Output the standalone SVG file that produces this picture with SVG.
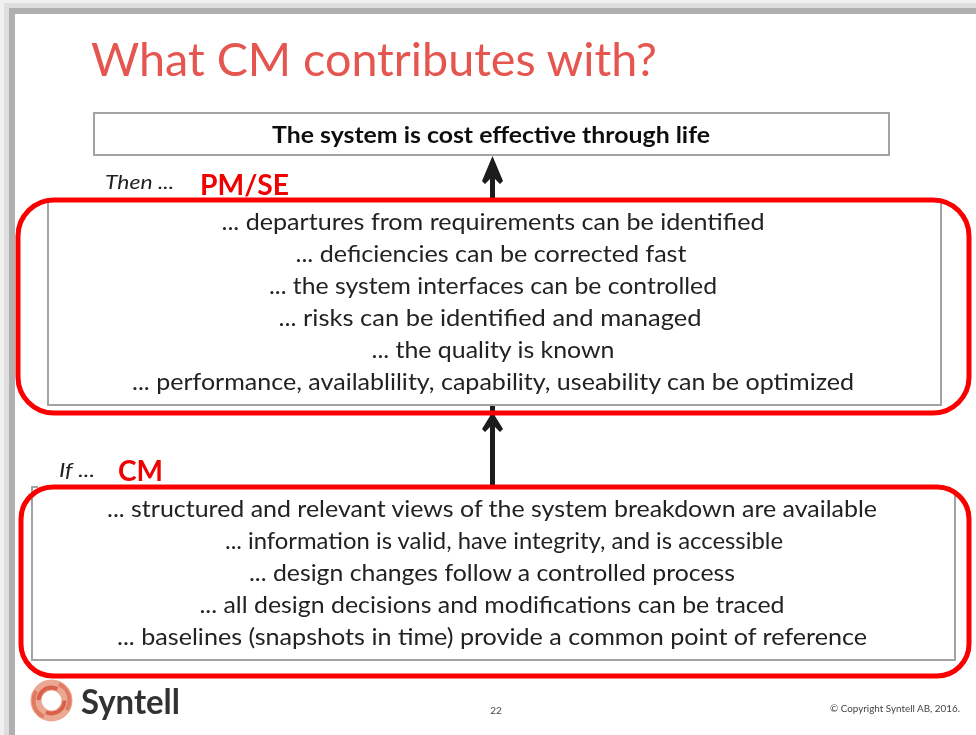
<svg xmlns="http://www.w3.org/2000/svg" width="976" height="735" viewBox="0 0 976 735">
<defs>
<filter id="soft" x="0" y="0" width="100%" height="100%"><feGaussianBlur stdDeviation="0.55"/></filter>
<style>
text{font-family:"Lato","Open Sans","Liberation Sans",sans-serif;}
.body{font-size:23px;fill:#222;text-anchor:middle;}
.red{font-size:28px;font-weight:700;fill:#f00000;}
.it{font-size:19px;font-style:italic;fill:#222;}
.box{fill:#fff;stroke:#a3a3a3;stroke-width:2;}
.edge{fill:none;stroke:#a3a3a3;stroke-width:2;}
.hl{fill:none;stroke:#fa0000;stroke-width:5;}
.conn{stroke:#1a1a1a;stroke-width:5;fill:none;}
.head{fill:#1a1a1a;stroke:none;}
</style>
</defs>
<rect width="976" height="735" fill="#fff"/>
<g filter="url(#soft)">
<rect x="0" y="0" width="976" height="3" fill="#f0f0f0"/>
<rect x="0" y="3" width="976" height="5" fill="#dedede"/>
<rect x="0" y="8" width="976" height="6" fill="#b0b0b0"/>
<rect x="0" y="0" width="4" height="735" fill="#f0f0f0"/>
<rect x="4" y="8" width="5" height="727" fill="#dedede"/>
<rect x="9" y="12" width="6" height="723" fill="#b0b0b0"/>
<rect x="15" y="14" width="961" height="721" fill="#fff"/>
<text x="91" y="76" font-size="46" fill="#e4564f" textLength="566" lengthAdjust="spacingAndGlyphs">What CM contributes with?</text>
<g id="goal">
<rect class="box" x="94" y="113" width="795" height="42"/>
<text x="491" y="143" font-size="23" font-weight="700" fill="#111" text-anchor="middle" textLength="438" lengthAdjust="spacingAndGlyphs">The system is cost effective through life</text>
</g>
<g id="connectors">
<path class="conn" d="M492.5 199V170"/>
<path class="head" d="M492.5 156L503 181L500 184L495 179H490L485 184L482 181Z"/>
<path class="conn" d="M492.5 485V405"/>
<path class="head" d="M492.5 412L503 429L500 432L495 427H490L485 432L482 429Z"/>
</g>
<g id="then-box">
<rect class="box" x="48" y="200" width="893" height="205"/>
<text class="body" x="493" y="230" textLength="543" lengthAdjust="spacingAndGlyphs">... departures from requirements can be identified</text>
<text class="body" x="491" y="262" textLength="391" lengthAdjust="spacingAndGlyphs">... deficiencies can be corrected fast</text>
<text class="body" x="493" y="294" textLength="448" lengthAdjust="spacingAndGlyphs">... the system interfaces can be controlled</text>
<text class="body" x="490" y="326" textLength="423" lengthAdjust="spacingAndGlyphs">... risks can be identified and managed</text>
<text class="body" x="493" y="358" textLength="243" lengthAdjust="spacingAndGlyphs">... the quality is known</text>
<text class="body" x="493" y="390" textLength="722" lengthAdjust="spacingAndGlyphs">... performance, availablility, capability, useability can be optimized</text>
</g>
<g id="then-highlight">
<rect class="hl" x="18" y="200" width="951" height="213" rx="36"/>
<text class="it" x="105" y="189" textLength="69" lengthAdjust="spacingAndGlyphs">Then ...</text>
<text class="red" x="200" y="195" textLength="89" lengthAdjust="spacingAndGlyphs">PM/SE</text>
</g>
<g id="if-box">
<path class="edge" d="M38 487H32V660H955V495"/>
<text class="body" x="492" y="517" textLength="770" lengthAdjust="spacingAndGlyphs">... structured and relevant views of the system breakdown are available</text>
<text class="body" x="504" y="549" textLength="558" lengthAdjust="spacingAndGlyphs">... information is valid, have integrity, and is accessible</text>
<text class="body" x="492" y="581" textLength="486" lengthAdjust="spacingAndGlyphs">... design changes follow a controlled process</text>
<text class="body" x="492" y="613" textLength="585" lengthAdjust="spacingAndGlyphs">... all design decisions and modifications can be traced</text>
<text class="body" x="492" y="645" textLength="750" lengthAdjust="spacingAndGlyphs">... baselines (snapshots in time) provide a common point of reference</text>
</g>
<g id="if-highlight">
<rect class="hl" x="21" y="487" width="948" height="189" rx="32"/>
<text class="it" x="59" y="477" textLength="36" lengthAdjust="spacingAndGlyphs">If ...</text>
<text class="red" x="118" y="481" textLength="45" lengthAdjust="spacingAndGlyphs">CM</text>
</g>
<g id="footer">
<circle cx="51.5" cy="700.5" r="15.5" fill="none" stroke="#eba892" stroke-width="11"/>
<circle cx="51.5" cy="700.5" r="13" fill="none" stroke="#d9604a" stroke-width="4" stroke-dasharray="26 15"/>
<circle cx="51.5" cy="700.5" r="18" fill="none" stroke="#e07a60" stroke-width="4" stroke-dasharray="30 26" stroke-dashoffset="20"/>
<text x="81" y="714" font-size="34" font-weight="700" fill="#333" textLength="99" lengthAdjust="spacingAndGlyphs">Syntell</text>
<text x="496" y="714" font-size="10" fill="#444" text-anchor="middle">22</text>
<text x="830" y="712" font-size="9" fill="#444" textLength="130" lengthAdjust="spacingAndGlyphs">© Copyright Syntell AB, 2016.</text>
</g>
</g>
</svg>
